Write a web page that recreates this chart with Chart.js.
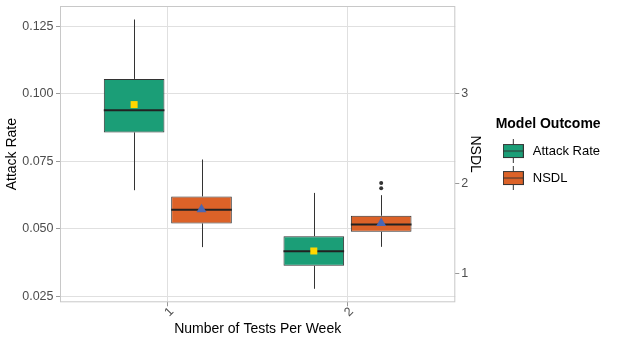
<!DOCTYPE html>
<html lang="en">
<head>
  <meta charset="UTF-8" />
  <title>Attack Rate and NSDL by Number of Tests Per Week</title>
  <script src="https://cdn.jsdelivr.net/npm/chart.js"></script>
  <style>
    html, body {
      margin: 0;
      padding: 0;
      background: #fff;
    }

    .chart-wrap {
      position: relative;
      width: 617px;
      height: 343px;
    }
  </style>
</head>
<body>

  <div class="chart-wrap">
    <canvas id="boxChart"></canvas>
  </div>

  <script>
    // categories and axis ticks
    const testsPerWeek = [1, 2];
    const xTicks = [1, 2];
    const xRange = [0.4, 2.6];
    const attackTicks = [0.025, 0.05, 0.075, 0.1, 0.125];
    const attackRange = [0.0228, 0.1325];
    const nsdlTicks = [1, 2, 3];
    const nsdlPerAttack = 30; // NSDL axis = Attack Rate axis * 30

    // Attack Rate box stats (per number of tests)
    const attackMin = [0.0643, 0.0278];
    const attackQ1 = [0.0857, 0.0363];
    const attackMedian = [0.0939, 0.0417];
    const attackQ3 = [0.1055, 0.0473];
    const attackMax = [0.1275, 0.0633];
    const attackMean = [0.0960, 0.0418];
    const attackOutliers = [[], []];

    // NSDL box stats
    const nsdlMin = [1.297, 1.300];
    const nsdlQ1 = [1.560, 1.467];
    const nsdlMedian = [1.711, 1.549];
    const nsdlQ3 = [1.860, 1.645];
    const nsdlMax = [2.270, 1.874];
    const nsdlMean = [1.723, 1.569];
    const nsdlOutliers = [[], [1.952, 2.008]];

    const green = '#1b9e77';
    const orange = '#dc6228';
    const tickGrey = '#4d4d4d';

    Chart.defaults.font.family = "'Liberation Sans', Arial, sans-serif";

    function boxData(q1, q3) {
      return testsPerWeek.map((x, i) => ({ x: x, y: [q1[i], q3[i]] }));
    }

    // small boxplot glyph for the legend
    function legendKey(color) {
      const c = document.createElement('canvas');
      c.width = 21;
      c.height = 24;
      const g = c.getContext('2d');
      g.strokeStyle = '#333';
      g.lineWidth = 1;
      g.beginPath();
      g.moveTo(10.5, 0); g.lineTo(10.5, 5.5);
      g.moveTo(10.5, 18.5); g.lineTo(10.5, 24);
      g.stroke();
      g.fillStyle = color;
      g.fillRect(0.5, 5.5, 20, 13);
      g.strokeRect(0.5, 5.5, 20, 13);
      g.beginPath();
      g.moveTo(0.5, 12); g.lineTo(20.5, 12);
      g.stroke();
      return c;
    }

    // whiskers, medians, means and outliers on top of the floating bars
    const boxExtras = {
      id: 'boxExtras',
      beforeDatasetsDraw(chart) {
        const { ctx, chartArea: a } = chart;
        ctx.save();
        ctx.strokeStyle = '#c8c8c8';
        ctx.lineWidth = 1;
        ctx.strokeRect(a.left + 0.5, a.top + 0.5, a.width - 1, a.height - 1);
        ctx.restore();
      },
      afterDatasetsDraw(chart) {
        const ctx = chart.ctx;
        chart.data.datasets.forEach((ds, d) => {
          const meta = chart.getDatasetMeta(d);
          const scale = chart.scales[meta.yAxisID];
          const s = ds.stats;
          const py = v => scale.getPixelForValue(v);
          meta.data.forEach((bar, i) => {
            const x = Math.round(bar.x) + 0.5;
            const half = bar.width / 2;
            ctx.save();
            ctx.strokeStyle = '#333';
            ctx.lineWidth = 1;
            ctx.beginPath();
            ctx.moveTo(x, py(s.q3[i])); ctx.lineTo(x, py(s.max[i]));
            ctx.moveTo(x, py(s.q1[i])); ctx.lineTo(x, py(s.min[i]));
            ctx.stroke();

            ctx.strokeStyle = '#222';
            ctx.lineWidth = 2;
            ctx.beginPath();
            ctx.moveTo(bar.x - half, py(s.median[i]));
            ctx.lineTo(bar.x + half, py(s.median[i]));
            ctx.stroke();

            const my = py(s.mean[i]);
            if (s.meanShape === 'square') {
              ctx.fillStyle = '#ffd700';
              ctx.fillRect(bar.x - 3.5, my - 3.5, 7, 7);
            } else {
              ctx.fillStyle = '#4a67b3';
              ctx.beginPath();
              ctx.moveTo(bar.x, my - 5);
              ctx.lineTo(bar.x + 5, my + 3.5);
              ctx.lineTo(bar.x - 5, my + 3.5);
              ctx.closePath();
              ctx.fill();
            }

            ctx.fillStyle = '#333';
            s.outliers[i].forEach(v => {
              ctx.beginPath();
              ctx.arc(bar.x, py(v), 2, 0, Math.PI * 2);
              ctx.fill();
            });
            ctx.restore();
          });
        });
      }
    };

    const ctx = document.getElementById('boxChart').getContext('2d');

    new Chart(ctx, {
      type: 'bar',
      data: {
        datasets: [{
          label: 'Attack Rate',
          data: boxData(attackQ1, attackQ3),
          yAxisID: 'y',
          backgroundColor: green,
          borderColor: '#333',
          borderWidth: 1,
          borderSkipped: false,
          categoryPercentage: 0.75,
          barPercentage: 0.9,
          stats: { min: attackMin, q1: attackQ1, median: attackMedian, q3: attackQ3, max: attackMax, mean: attackMean, outliers: attackOutliers, meanShape: 'square' }
        }, {
          label: 'NSDL',
          data: boxData(nsdlQ1, nsdlQ3),
          yAxisID: 'y1',
          backgroundColor: orange,
          borderColor: '#333',
          borderWidth: 1,
          borderSkipped: false,
          categoryPercentage: 0.75,
          barPercentage: 0.9,
          stats: { min: nsdlMin, q1: nsdlQ1, median: nsdlMedian, q3: nsdlQ3, max: nsdlMax, mean: nsdlMean, outliers: nsdlOutliers, meanShape: 'triangle' }
        }]
      },
      options: {
        responsive: true,
        maintainAspectRatio: false,
        animation: false,
        layout: { padding: { top: 0, right: 7, bottom: 0, left: 0 } },
        plugins: {
          tooltip: { enabled: false },
          legend: {
            position: 'right',
            fullSize: false,
            maxWidth: 140,
            title: {
              display: true,
              text: 'Model Outcome',
              color: '#000',
              font: { size: 14, weight: 'bold' },
              padding: { top: 7, bottom: -3 }
            },
            labels: {
              usePointStyle: true,
              pointStyleWidth: 26,
              padding: 14,
              color: '#000',
              font: { size: 13 },
              generateLabels: (chart) => chart.data.datasets.map((ds, i) => ({
                text: ds.label,
                pointStyle: legendKey(ds.backgroundColor),
                fillStyle: ds.backgroundColor,
                strokeStyle: '#333',
                fontColor: '#000',
                lineWidth: 0,
                hidden: false,
                datasetIndex: i
              }))
            }
          }
        },
        scales: {
          x: {
            type: 'linear',
            min: xRange[0],
            max: xRange[1],
            offset: false,
            afterBuildTicks: s => { s.ticks = xTicks.map(v => ({ value: v })); },
            afterFit: s => { s.height = 40.7; s.paddingLeft = 0; s.paddingRight = 0; },
            ticks: {
              color: tickGrey,
              font: { size: 12.5, lineHeight: 1 },
              minRotation: 45,
              maxRotation: 45,
              padding: -1,
              labelOffset: 4,
              callback: v => String(v)
            },
            grid: { offset: false, color: '#e0e0e0', tickColor: '#9a9a9a', tickLength: 4 },
            border: { display: false },
            title: {
              display: true,
              text: 'Number of Tests Per Week',
              color: '#000',
              font: { size: 14 },
              padding: { top: 0, bottom: 5 }
            }
          },
          y: {
            position: 'left',
            min: attackRange[0],
            max: attackRange[1],
            afterBuildTicks: s => { s.ticks = attackTicks.map(v => ({ value: v })); },
            afterFit: s => { s.width = 60; s.paddingTop = 6; s.paddingBottom = 0; },
            ticks: {
              color: tickGrey,
              font: { size: 12.5, lineHeight: 1 },
              padding: 2.5,
              callback: v => v.toFixed(3)
            },
            grid: { color: '#e0e0e0', tickColor: '#9a9a9a', tickLength: 4 },
            border: { display: false },
            title: {
              display: true,
              text: 'Attack Rate',
              color: '#000',
              font: { size: 14 },
              padding: { top: 3.6, bottom: 0 }
            }
          },
          y1: {
            position: 'right',
            min: attackRange[0] * nsdlPerAttack,
            max: attackRange[1] * nsdlPerAttack,
            afterBuildTicks: s => { s.ticks = nsdlTicks.map(v => ({ value: v })); },
            afterFit: s => { s.width = 31; s.paddingTop = 6; s.paddingBottom = 0; },
            ticks: {
              color: tickGrey,
              font: { size: 12.5, lineHeight: 1 },
              padding: 2,
              callback: v => String(v)
            },
            grid: { drawOnChartArea: false, tickColor: '#9a9a9a', tickLength: 4 },
            border: { display: false },
            title: {
              display: true,
              text: 'NSDL',
              color: '#000',
              font: { size: 14 },
              padding: { top: 2.6, bottom: 0 }
            }
          }
        }
      },
      plugins: [boxExtras]
    });
  </script>

</body>
</html>
